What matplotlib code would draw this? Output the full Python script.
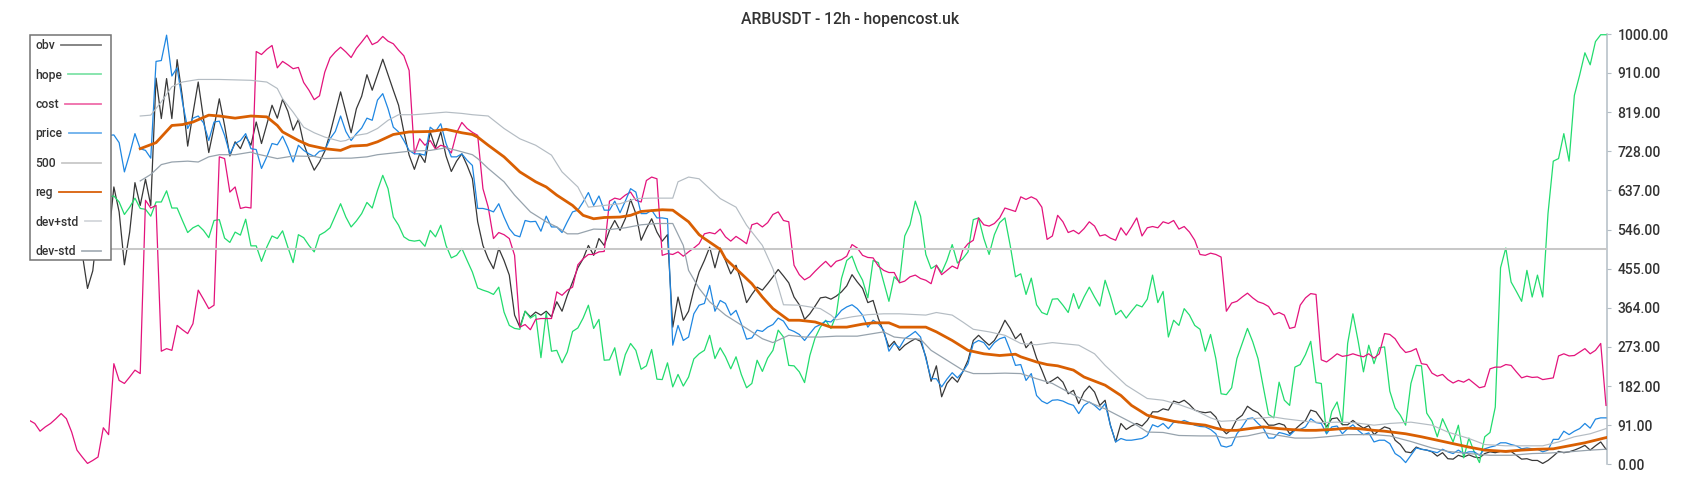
import numpy as np
import matplotlib
matplotlib.use("Agg")
import matplotlib.pyplot as plt
from matplotlib.lines import Line2D
from matplotlib.patches import Rectangle

plt.rcParams['font.family'] = ['Roboto', 'DejaVu Sans']

# ---------------- data ----------------
title = "ARBUSDT - 12h - hopencost.uk"
series_labels = ["obv", "hope", "cost", "price", "500", "reg", "dev+std", "dev-std"]
y_ticks = [0, 91, 182, 273, 364, 455, 546, 637, 728, 819, 910, 1000]
level_500 = 500

cost = [102, 95, 77, 87, 95, 106, 118, 106, 75, 33,
        17, 2, 9, 17, 85, 69, 234, 195, 188, 203,
        219, 211, 614, 596, 602, 263, 269, 265, 323, 313,
        304, 327, 405, 384, 362, 370, 715, 711, 633, 645,
        595, 598, 596, 960, 953, 965, 974, 922, 937, 929,
        920, 923, 888, 870, 848, 857, 912, 945, 959, 970,
        959, 946, 967, 982, 998, 976, 982, 995, 984, 978,
        963, 950, 916, 722, 757, 742, 753, 733, 742, 738,
        724, 771, 795, 781, 772, 765, 641, 598, 525, 539,
        534, 525, 486, 319, 325, 313, 337, 339, 339, 339,
        401, 393, 405, 412, 464, 478, 488, 488, 494, 495,
        612, 619, 616, 626, 633, 614, 610, 660, 668, 664,
        486, 490, 488, 494, 484, 494, 503, 513, 536, 539,
        536, 547, 529, 519, 530, 522, 513, 557, 561, 552,
        562, 581, 587, 567, 564, 463, 441, 429, 436, 449,
        461, 472, 459, 472, 476, 484, 511, 503, 486, 481,
        480, 461, 451, 446, 446, 422, 426, 436, 440, 432,
        428, 420, 463, 441, 451, 461, 455, 498, 513, 521,
        573, 557, 554, 560, 573, 596, 592, 588, 622, 616,
        622, 616, 598, 523, 531, 579, 564, 539, 544, 536,
        548, 564, 554, 531, 534, 526, 521, 550, 533, 552,
        573, 531, 550, 553, 550, 564, 560, 567, 547, 553,
        540, 521, 488, 486, 491, 488, 482, 356, 375, 379,
        389, 398, 387, 378, 374, 367, 348, 353, 347, 316,
        319, 370, 387, 397, 395, 243, 238, 247, 257, 251,
        253, 257, 253, 250, 257, 247, 257, 304, 302, 292,
        273, 260, 263, 269, 234, 232, 212, 205, 209, 197,
        189, 195, 191, 198, 188, 178, 181, 222, 226, 226,
        232, 230, 215, 201, 205, 202, 203, 197, 199, 201,
        252, 257, 252, 253, 261, 269, 257, 265, 281, 137]

hope = [640, 620, 600, 630, 610, 585, 600, 625, 640, 615,
        598, 580, 605, 630, 640, 622, 624, 610, 581, 598,
        619, 595, 593, 577, 610, 610, 636, 596, 596, 567,
        539, 550, 556, 544, 527, 567, 569, 526, 516, 540,
        533, 570, 508, 508, 472, 505, 531, 525, 543, 505,
        469, 534, 527, 509, 494, 533, 540, 550, 578, 606,
        575, 552, 566, 583, 609, 596, 637, 672, 641, 575,
        556, 529, 521, 519, 521, 507, 544, 529, 556, 509,
        480, 486, 502, 474, 447, 410, 405, 401, 395, 412,
        354, 323, 316, 314, 356, 340, 348, 248, 353, 263,
        265, 236, 261, 309, 317, 340, 370, 316, 337, 242,
        243, 271, 207, 255, 281, 265, 221, 229, 267, 198,
        197, 236, 180, 209, 182, 203, 245, 257, 265, 300,
        246, 271, 250, 222, 250, 209, 178, 188, 242, 216,
        247, 265, 312, 296, 230, 229, 215, 190, 253, 294,
        319, 335, 316, 347, 432, 474, 484, 451, 428, 387,
        474, 469, 424, 379, 436, 424, 531, 557, 612, 577,
        488, 455, 463, 446, 474, 511, 468, 478, 494, 569,
        573, 525, 488, 534, 562, 573, 509, 436, 443, 395,
        433, 371, 353, 348, 384, 385, 370, 353, 397, 362,
        389, 412, 389, 368, 428, 391, 348, 358, 340, 356,
        371, 366, 384, 440, 376, 402, 296, 335, 323, 362,
        347, 323, 314, 263, 302, 246, 164, 162, 178, 246,
        281, 316, 285, 246, 180, 116, 108, 191, 149, 137,
        226, 232, 255, 286, 190, 188, 71, 123, 145, 95,
        281, 350, 286, 215, 277, 234, 271, 273, 170, 131,
        114, 91, 188, 230, 229, 119, 100, 64, 106, 79,
        52, 91, 15, 61, 29, 4, 64, 74, 133, 457,
        503, 424, 402, 379, 451, 389, 440, 389, 583, 705,
        711, 769, 705, 858, 905, 957, 929, 983, 999, 999]

price = [700, 720, 745, 730, 760, 740, 715, 735, 750, 770,
         745, 725, 740, 760, 750, 765, 766, 748, 680, 722,
         769, 734, 730, 712, 937, 939, 998, 903, 922, 843,
         781, 805, 810, 794, 753, 796, 798, 765, 722, 746,
         753, 769, 734, 732, 688, 715, 746, 743, 763, 736,
         703, 742, 730, 722, 716, 728, 730, 757, 774, 810,
         774, 753, 769, 782, 805, 800, 847, 862, 827, 784,
         773, 753, 730, 722, 722, 719, 784, 774, 792, 746,
         715, 715, 722, 707, 695, 595, 595, 592, 587, 606,
         575, 548, 533, 529, 567, 564, 565, 542, 577, 552,
         552, 539, 564, 587, 591, 610, 632, 602, 624, 591,
         591, 612, 585, 612, 641, 633, 583, 583, 591, 573,
         573, 571, 277, 323, 288, 296, 350, 370, 374, 416,
         356, 381, 374, 347, 358, 327, 291, 294, 312, 309,
         319, 325, 340, 333, 314, 309, 302, 288, 304, 319,
         325, 333, 331, 343, 358, 366, 371, 362, 347, 319,
         335, 327, 312, 263, 281, 271, 292, 300, 309, 296,
         246, 199, 199, 180, 198, 213, 201, 215, 234, 281,
         288, 283, 267, 283, 292, 296, 265, 230, 232, 195,
         211, 160, 147, 141, 149, 150, 147, 141, 137, 118,
         137, 145, 137, 126, 141, 91, 52, 60, 56, 56,
         58, 60, 67, 92, 87, 95, 83, 98, 97, 102,
         97, 91, 88, 87, 81, 71, 43, 40, 44, 71,
         87, 106, 108, 95, 84, 61, 61, 74, 71, 67,
         79, 81, 87, 106, 97, 95, 71, 87, 89, 71,
         83, 92, 79, 69, 73, 52, 56, 56, 48, 25,
         17, 4, 21, 38, 35, 33, 30, 27, 35, 29,
         25, 33, 25, 29, 29, 21, 36, 40, 43, 50,
         50, 46, 43, 36, 38, 36, 35, 29, 33, 58,
         58, 77, 69, 77, 83, 95, 84, 105, 108, 108]

obv = [600, 560, 620, 580, 640, 600, 560, 610, 580, 540,
       490, 409, 450, 560, 520, 525, 645, 587, 464, 540,
       655, 602, 663, 602, 898, 804, 897, 804, 941, 854,
       740, 816, 889, 804, 725, 784, 850, 788, 717, 750,
       734, 763, 742, 796, 746, 790, 835, 805, 849, 821,
       777, 802, 746, 712, 684, 703, 728, 769, 818, 866,
       819, 771, 827, 856, 906, 870, 906, 942, 906, 870,
       835, 773, 719, 686, 722, 702, 773, 736, 773, 717,
       681, 705, 722, 695, 664, 564, 509, 478, 455, 502,
       474, 440, 347, 319, 356, 343, 354, 347, 356, 343,
       378, 356, 393, 424, 457, 478, 509, 486, 525, 509,
       544, 567, 544, 571, 616, 583, 521, 548, 571, 540,
       519, 534, 319, 389, 335, 356, 406, 447, 474, 505,
       457, 503, 474, 443, 463, 424, 376, 395, 412, 405,
       420, 436, 453, 438, 422, 389, 371, 337, 350, 368,
       387, 389, 384, 391, 401, 415, 441, 424, 409, 376,
       381, 339, 308, 273, 286, 265, 277, 285, 292, 286,
       250, 193, 229, 157, 188, 203, 191, 215, 242, 288,
       300, 288, 277, 288, 309, 335, 316, 292, 304, 271,
       285, 247, 219, 188, 195, 203, 191, 164, 172, 141,
       168, 182, 168, 137, 149, 91, 52, 95, 81, 89,
       95, 89, 102, 122, 122, 129, 126, 147, 143, 149,
       139, 126, 122, 120, 122, 110, 84, 71, 81, 105,
       114, 135, 126, 120, 106, 91, 91, 95, 91, 71,
       81, 92, 102, 126, 122, 105, 87, 106, 108, 92,
       92, 102, 92, 84, 90, 69, 79, 87, 83, 56,
       46, 29, 27, 40, 35, 33, 29, 19, 27, 13,
       12, 21, 17, 22, 17, 15, 25, 29, 27, 30,
       29, 30, 21, 12, 13, 9, 9, 2, 9, 19,
       30, 27, 29, 33, 38, 44, 33, 43, 52, 35]

reg_t = [21, 24, 27, 29, 31, 34, 36, 39, 42, 45, 47, 48, 51, 53, 56, 59, 61, 64, 66, 69,
         72, 76, 79, 82, 84, 85, 87, 90, 93, 96, 98, 100, 103, 105, 107, 109, 112, 114, 116, 118,
         120, 122, 125, 127, 128, 131, 132, 134, 137, 139, 141, 144, 146, 149, 152, 155, 158, 160, 163, 165,
         170, 172, 175, 178, 181, 184, 187, 188, 191, 193, 195, 198, 200, 204, 207, 209, 212, 214, 217, 220,
         223, 225, 227, 229, 232, 234, 237, 239, 242, 244, 247, 250, 252, 255, 257, 261, 264, 267, 270, 273,
         276, 280, 283, 286, 289, 292, 295, 299]
reg_v = [734, 748, 788, 790, 796, 812, 810, 805, 810, 808, 788, 773, 753, 742, 734, 730, 740, 742, 750, 767,
         773, 774, 779, 771, 767, 761, 742, 715, 680, 657, 645, 626, 602, 579, 571, 574, 575, 579, 588, 590,
         592, 591, 564, 534, 525, 500, 478, 455, 420, 389, 362, 335, 335, 331, 319, 319, 326, 329, 329, 319,
         319, 308, 288, 265, 257, 253, 256, 250, 238, 232, 229, 219, 203, 184, 160, 137, 114, 108, 100, 95,
         91, 84, 79, 79, 84, 87, 83, 81, 79, 79, 81, 84, 83, 79, 77, 71, 64, 56, 48, 40,
         33, 30, 33, 35, 36, 43, 50, 62]

dev_plus_t = [21, 23, 25, 27, 29, 32, 36, 42, 45, 47, 48, 50, 52, 54, 56, 59, 60, 62, 64, 66,
              68, 70, 73, 76, 79, 82, 84, 87, 90, 93, 96, 99, 101, 104, 106, 109, 112, 115, 118, 122,
              123, 125, 127, 129, 131, 134, 136, 139, 141, 143, 146, 150, 152, 153, 156, 159, 162, 165, 170, 172,
              175, 177, 179, 182, 185, 188, 191, 194, 199, 202, 204, 208, 212, 215, 218, 221, 224, 226, 229, 232,
              236, 238, 242, 245, 248, 251, 255, 258, 262, 266, 269, 273, 276, 280, 283, 287, 290, 293, 296, 299]
dev_plus_v = [810, 812, 843, 878, 889, 895, 895, 893, 889, 874, 850, 819, 784, 771, 761, 751, 753, 765, 769, 781,
              800, 813, 813, 816, 819, 816, 813, 810, 781, 757, 742, 719, 680, 645, 598, 602, 606, 618, 619, 619,
              657, 668, 664, 641, 618, 598, 556, 509, 455, 371, 370, 362, 347, 336, 343, 348, 350, 350, 347, 353,
              347, 331, 314, 308, 300, 281, 278, 283, 277, 257, 230, 184, 153, 149, 139, 126, 108, 100, 102, 106,
              110, 106, 100, 97, 98, 97, 91, 95, 98, 91, 75, 60, 46, 43, 43, 43, 52, 64, 71, 83]

dev_minus_t = [21, 23, 25, 27, 30, 32, 34, 36, 39, 42, 43, 47, 50, 54, 56, 59, 61, 64, 66, 69,
               72, 76, 79, 81, 84, 85, 87, 90, 92, 95, 98, 100, 102, 104, 107, 110, 113, 116, 119, 122,
               124, 125, 127, 129, 132, 136, 139, 141, 144, 147, 150, 153, 157, 160, 162, 164, 167, 169, 171, 174,
               177, 179, 182, 185, 188, 191, 194, 197, 200, 204, 207, 210, 212, 215, 218, 222, 225, 227, 231, 234,
               237, 240, 243, 246, 250, 253, 255, 258, 262, 266, 269, 273, 277, 281, 285, 288, 292, 296, 299]
dev_minus_v = [659, 674, 697, 703, 705, 703, 715, 720, 720, 726, 722, 711, 717, 716, 711, 712, 712, 715, 720, 724,
               728, 730, 736, 730, 720, 711, 688, 657, 626, 587, 564, 552, 536, 536, 547, 546, 550, 557, 560, 560,
               509, 451, 409, 378, 347, 316, 292, 283, 300, 296, 296, 298, 298, 304, 308, 296, 292, 291, 265, 242,
               219, 211, 211, 212, 211, 199, 188, 168, 149, 129, 110, 91, 75, 74, 67, 66, 66, 61, 66, 74,
               67, 61, 61, 64, 69, 69, 69, 66, 53, 38, 30, 25, 21, 21, 25, 26, 29, 33, 35]

# ---------------- styles ----------------
line_colors = {"obv": "#383838", "hope": "#22dc6e", "cost": "#e3137c", "price": "#1f87e2",
               "500": "#c8c8c8", "reg": "#d95f02", "dev+std": "#b4bcc3", "dev-std": "#97a3ad"}
legend_colors = {"obv": "#7c7c7c", "hope": "#7fe3a8", "cost": "#ef6ca9", "price": "#6cb0ec",
                 "500": "#c8c8c8", "reg": "#d9600a", "dev+std": "#d3d7db", "dev-std": "#a7b0b8"}

W, H = 1700.0, 500.0
fig = plt.figure(figsize=(17, 5), dpi=100)
fig.patch.set_facecolor("white")
ax = fig.add_axes([29.5 / W, 1 - 464.3 / H, (1607 - 29.5) / W, 430.0 / H])
ax.patch.set_alpha(0)

ax.plot(np.arange(len(obv)), obv, color=line_colors["obv"], lw=0.9, zorder=3)
ax.plot(np.arange(len(hope)), hope, color=line_colors["hope"], lw=0.9, zorder=3)
ax.plot(np.arange(len(cost)), cost, color=line_colors["cost"], lw=0.9, zorder=3)
ax.plot(np.arange(len(price)), price, color=line_colors["price"], lw=0.9, zorder=3)
ax.axhline(level_500, color=line_colors["500"], lw=1.45, zorder=3)
ax.plot(reg_t, reg_v, color=line_colors["reg"], lw=2.0, zorder=4, solid_joinstyle="round")
ax.plot(dev_plus_t, dev_plus_v, color=line_colors["dev+std"], lw=0.85, zorder=4)
ax.plot(dev_minus_t, dev_minus_v, color=line_colors["dev-std"], lw=0.9, zorder=4)

ax.set_xlim(0, len(cost) - 1 + 0.19)
ax.set_ylim(0, 1000)
ax.set_xticks([])
ax.yaxis.tick_right()
ax.set_yticks(y_ticks)
ax.set_yticklabels([f"{v:.2f}" for v in y_ticks], fontweight="medium")
ax.tick_params(axis="y", length=3, width=0.8, color="#b3bdc5", labelsize=10,
               labelcolor="#333333", pad=4.5)
for s in ["left", "top", "bottom"]:
    ax.spines[s].set_visible(False)
ax.spines["right"].set_color("#b3bdc5")
ax.spines["right"].set_linewidth(1.1)

fig.text(0.5, 1 - 19.5 / H, title, ha="center", va="center", fontsize=11.3,
         fontweight="medium", color="#333333")

# ---------------- legend (text left, line filling to the right edge) ----------------
box = Rectangle((29.5 / W, 1 - 259.5 / H), (111 - 29.5) / W, (259.5 - 35) / H,
                transform=fig.transFigure, facecolor="white", edgecolor="#737373",
                lw=1.1, zorder=10)
fig.add_artist(box)
renderer = fig.canvas.get_renderer()
for i, lab in enumerate(series_labels):
    yc = 45 + 29.39 * i
    txt = fig.text(35 / W, 1 - (yc + 4.2) / H, lab, ha="left", va="baseline",
                   fontsize=8.7, fontweight="medium", color="#333333", zorder=11)
    bb = txt.get_window_extent(renderer)
    x0 = bb.x1 + 6.5
    fig.add_artist(Line2D([x0 / W, 100.7 / W], [1 - yc / H, 1 - yc / H],
                          transform=fig.transFigure, color=legend_colors[lab],
                          lw=1.3, zorder=11))

fig.savefig("out.png", dpi=100, facecolor="white")
